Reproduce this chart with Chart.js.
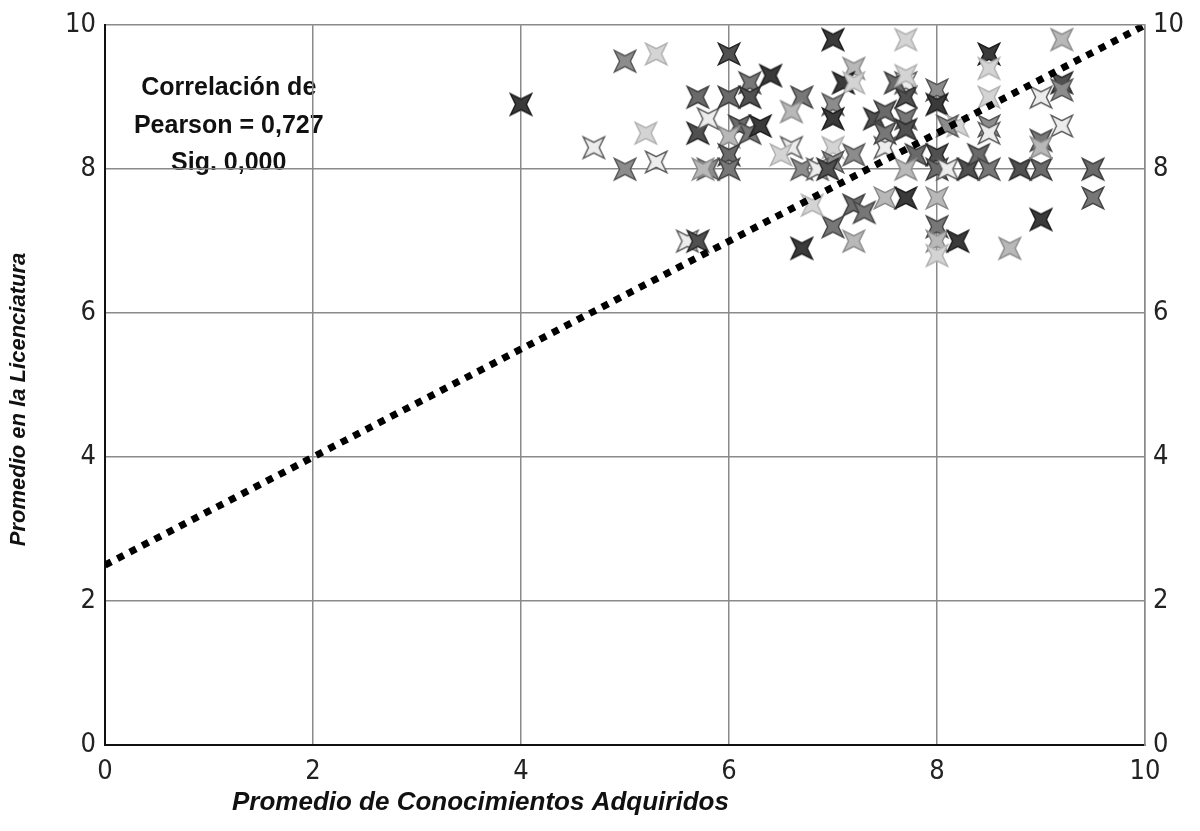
<!DOCTYPE html>
<html><head><meta charset="utf-8">
<script src="https://cdn.jsdelivr.net/npm/chart.js@4/dist/chart.umd.min.js"></script>
<style>html,body{margin:0;padding:0;background:#fff}#wrap{width:1200px;height:831px}</style>
</head><body><div id="wrap"><canvas id="c" width="1200" height="831"></canvas></div>
<script>
// ---- data ----
const conocimientos = [4.0,5.3,5.0,4.7,5.2,5.0,5.3,5.7,5.8,5.6,5.7,5.7,5.8,6.0,6.0,6.2,6.2,6.1,6.2,6.0,6.0,6.0,5.75,6.4,6.7,6.6,7.0,7.7,7.2,7.1,7.2,7.0,7.0,7.0,7.0,6.6,6.5,6.7,6.85,6.95,7.2,7.5,7.4,7.5,7.7,7.7,7.6,7.7,7.7,7.8,7.5,7.7,7.2,7.3,7.5,7.7,7.0,7.2,6.7,6.8,9.2,8.5,8.5,8.0,8.0,8.5,8.5,8.5,8.2,8.1,9.0,9.2,9.2,9.2,8.0,8.0,8.1,8.3,8.4,8.5,8.8,9.0,9.0,9.0,9.5,9.5,8.0,9.0,8.0,8.0,8.2,8.0,8.7,6.3,7.7];
const licenciatura = [8.9,9.6,9.5,8.3,8.5,8.0,8.1,8.5,8.0,7.0,7.0,9.0,8.7,9.6,9.0,9.2,9.0,8.6,8.5,8.45,8.2,8.0,8.0,9.3,9.0,8.8,9.8,9.8,9.4,9.2,9.2,8.9,8.7,8.3,8.1,8.3,8.2,8.0,8.0,8.0,8.2,8.3,8.7,8.8,9.2,9.0,9.2,8.7,8.55,8.2,8.5,8.0,7.5,7.4,7.6,7.6,7.2,7.0,6.9,7.5,9.8,9.6,9.4,9.1,8.9,9.0,8.6,8.5,8.6,8.6,9.0,9.2,9.1,8.6,8.2,8.0,8.0,8.0,8.2,8.0,8.0,8.0,8.4,8.3,8.0,7.6,7.6,7.3,7.2,7.0,7.0,6.8,6.9,8.6,9.3];
const trendX = [0, 10];
const trendY = [2.5, 10];
const tickValues = [0, 2, 4, 6, 8, 10];
const xTitle = 'Promedio de Conocimientos Adquiridos';
const yTitle = 'Promedio en la Licenciatura';
const noteLines = ['Correlación de', 'Pearson = 0,727', 'Sig. 0,000'];

// ---- star images ----
const shades = [['#3a3a3a','#1c1c1c'],['#6a6a6a','#3a3a3a'],['#8c8c8c','#555'],['#b8b8b8','#8a8a8a'],['#505050','#262626'],['#d4d4d4','#b0b0b0'],['#777','#444'],['#ececec','#5a5a5a']];
function makeStar(fill, stroke){
  const s = 34, cv = document.createElement('canvas'); cv.width = s; cv.height = s;
  const g = cv.getContext('2d'), c = s/2, R = 15, r = 5.4;
  g.beginPath();
  for (let i = 0; i < 8; i++) {
    const a = -Math.PI/4 + i*Math.PI/4, rad = i%2 ? r : R;
    const px = c + rad*Math.cos(a), py = c + rad*Math.sin(a);
    i ? g.lineTo(px,py) : g.moveTo(px,py);
  }
  g.closePath();
  g.fillStyle = fill; g.fill();
  g.lineWidth = 1.4; g.strokeStyle = stroke; g.stroke();
  return cv;
}
const starImgs = shades.map(s => makeStar(s[0], s[1]));

const points = conocimientos.map((x,i) => ({x, y: licenciatura[i]}));
const trend = trendX.map((x,i) => ({x, y: trendY[i]}));

const FONT = 'Liberation Sans, Arial, sans-serif';
const TICKFONT = '"Liberation Sans Narrow", "Arial Narrow", "DejaVu Sans Condensed", Liberation Sans, sans-serif';

const notePlugin = {
  id: 'note',
  beforeDraw(chart){
    const {ctx, scales:{x, y}} = chart;
    ctx.save();
    ctx.font = 'bold 25px ' + FONT;
    ctx.fillStyle = '#111';
    ctx.textAlign = 'center'; ctx.textBaseline = 'middle';
    const cx = x.getPixelForValue(1.19);
    const ys = [9.13, 8.6, 8.08];
    noteLines.forEach((t,i) => ctx.fillText(t, cx, y.getPixelForValue(ys[i])));
    ctx.restore();
  },
  afterDraw(chart){
    const {ctx, scales:{x, y}} = chart;
    ctx.save();
    ctx.fillStyle = '#111';
    ctx.textAlign = 'center'; ctx.textBaseline = 'middle';
    ctx.font = 'italic bold 26px ' + FONT;
    ctx.fillText(xTitle, x.getPixelForValue(3.61), 803);
    ctx.font = 'italic bold 22px ' + FONT;
    ctx.translate(19, y.getPixelForValue(4.8));
    ctx.rotate(-Math.PI/2);
    ctx.fillText(yTitle, 0, 0);
    ctx.restore();
  }
};

new Chart(document.getElementById('c'), {
  type: 'scatter',
  data: { datasets: [
    { type:'line', data: trend, borderColor:'#000', borderWidth:7, borderDash:[7,7], pointRadius:0, fill:false, order:0 },
    { data: points, pointStyle: c => starImgs[(c.dataIndex*5 + (c.dataIndex>>2)) % starImgs.length], pointRadius:12, order:1 }
  ]},
  options: {
    responsive:false, animation:false, devicePixelRatio:1,
    layout:{ padding:{ top:25, left:0, right:0, bottom:0 } },
    plugins:{ legend:{display:false}, tooltip:{enabled:false} },
    scales:{
      x:{ type:'linear', min:0, max:10, afterBuildTicks: s => { s.ticks = tickValues.map(v=>({value:v})); },
          afterFit: s => { s.height = 86; },
          grid:{ color:'#8a8a8a', lineWidth:1.5, drawTicks:false },
          border:{ color:'#111', width:2 },
          ticks:{ color:'#222', font:{family:TICKFONT, size:27}, padding:11 } },
      y:{ type:'linear', position:'left', min:0, max:10, afterBuildTicks: s => { s.ticks = tickValues.map(v=>({value:v})); },
          afterFit: s => { s.width = 105; },
          grid:{ color:'#8a8a8a', lineWidth:1.5, drawTicks:false },
          border:{ color:'#111', width:2 },
          ticks:{ color:'#222', font:{family:TICKFONT, size:27}, padding:9 } },
      y2:{ type:'linear', position:'right', min:0, max:10, afterBuildTicks: s => { s.ticks = tickValues.map(v=>({value:v})); },
          afterFit: s => { s.width = 55; },
          grid:{ display:false, drawTicks:false },
          border:{ color:'#8a8a8a', width:1.5 },
          ticks:{ color:'#222', font:{family:TICKFONT, size:27}, padding:8 } }
    }
  },
  plugins:[notePlugin]
});
</script></body></html>
